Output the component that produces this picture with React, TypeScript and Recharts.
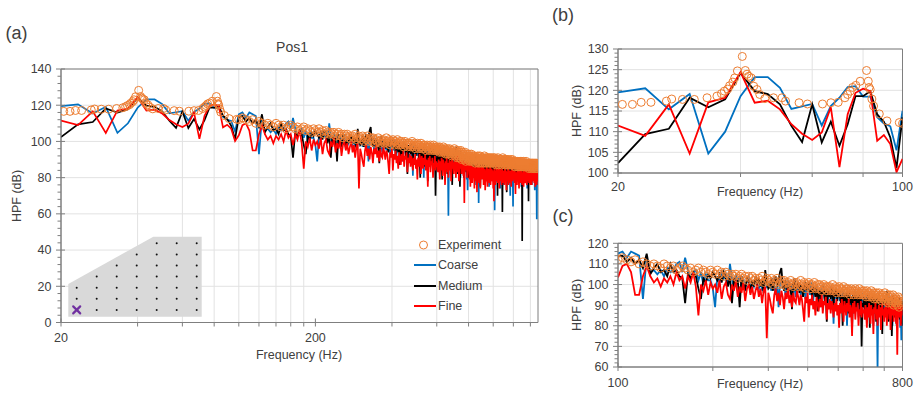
import React from "react";
import {
  CartesianGrid,
  ComposedChart,
  Legend,
  Line,
  ReferenceArea,
  Scatter,
  XAxis,
  YAxis,
} from "recharts";

const FONT = '"Liberation Sans", Arial, Helvetica, sans-serif';
const TEXT = "#404040";
const AXIS = "#7f7f7f";
const GRID = "#e2e2e2";
const EXP_COLOR = "#ED7D31";

// simulated spectra: one value every 10/3 Hz starting at 20 Hz (FFT bins)
const SIM_F0 = 20;
const SIM_DF = 10 / 3;

const coarse = [
  // 20 - 100 Hz
  119.5, 120.5, 115.4, 119.1, 104.7, 110, 118.6, 123.2, 123.2, 120.6, 115.5, 116.1, 116.7, 111.5, 116.2, 118.2, 120.8, 121, 118.5, 118.5, 113.5, 112, 111.3, 105.5, 115,
  // 100 - 200 Hz
  116, 113, 116, 115, 114, 93, 113, 106, 107, 105, 107, 104, 108, 106, 107, 110, 111, 106, 113, 107, 103, 106, 107, 102, 106, 100, 105, 102, 102, 98,
  // 200 - 300 Hz
  89, 104, 101, 106, 103, 105, 100, 110, 103, 98, 105, 101, 104, 99, 103, 97, 102, 104, 96, 101, 99, 103, 100, 98, 102, 97, 101, 103, 99, 100,
  // 300 - 400 Hz
  101, 97, 103, 99, 95, 102, 89, 100, 104, 98, 101, 95, 99, 102, 97, 100, 96, 101, 98, 94, 100, 97, 101, 95, 99, 96, 100, 93, 98, 97,
  // 400 - 500 Hz
  99, 95, 101, 97, 92, 99, 96, 100, 94, 98, 95, 89, 97, 100, 96, 93, 98, 95, 91, 97, 94, 99, 92, 96, 81, 95, 98, 93, 96, 94,
  // 500 - 600 Hz
  96, 92, 95, 89, 97, 93, 90, 96, 94, 80, 95, 91, 97, 88, 94, 92, 96, 86, 93, 95, 90, 97, 92, 84, 95, 91, 94, 89, 96, 93,
  // 600 - 700 Hz
  92, 88, 95, 90, 84, 93, 89, 96, 86, 91, 94, 88, 92, 80, 90, 95, 87, 93, 89, 59, 91, 86, 94, 88, 92, 83, 90, 95, 87, 91,
  // 700 - 800 Hz
  91, 86, 93, 88, 84, 92, 89, 95, 83, 90, 87, 93, 80, 89, 91, 85, 92, 88, 82, 90, 86, 93, 84, 89, 91, 79, 88, 73, 90, 86,
  // 800 - 1500 Hz
  88, 84, 90, 81, 87, 85, 91, 78, 86, 89, 83, 88, 80, 90, 85, 87, 76, 89, 84, 86,
  82, 88, 66, 87, 84, 90, 79, 86, 83, 88, 85, 80, 89, 83, 87, 77, 86, 90, 82, 85,
  88, 81, 86, 84, 79, 89, 83, 87, 75, 85, 84, 88, 80, 86, 83, 89, 78, 85, 87, 81,
  86, 80, 88, 62, 85, 83, 87, 79, 84, 88, 82, 86, 77, 88, 84, 80, 87, 83, 85, 74,
  87, 83, 86, 79, 88, 82, 85, 76, 86, 84, 81, 87, 84, 78, 86, 83, 88, 80, 85, 82,
  86, 79, 85, 83, 87, 77, 84, 86, 81, 70, 85, 82, 87, 80, 84, 86, 78, 85, 64, 83,
  86, 81, 84, 88, 79, 85, 82, 87, 76, 84, 83, 86, 80, 85, 82, 87, 78, 84, 86, 81,
  85, 79, 86, 83, 81, 87, 75, 84, 82, 85, 80, 86, 83, 78, 85, 82, 87, 79, 84, 81,
  85, 82, 77, 86, 83, 80, 85, 74, 84, 82, 86, 81, 84, 79, 85, 83, 77, 86, 82, 80,
  84, 78, 85, 82, 86, 76, 83, 85, 80, 84, 81, 85, 79, 84, 82, 86, 73, 83, 85, 80,
  84, 81, 85, 78, 57, 83, 80, 84, 76, 82,
];

const medium = [
  102.4, 109.4, 110.7, 118.2, 115.9, 117.8, 124.2, 119.8, 119.1, 116.6, 111.4, 107.5, 116.6, 107.4, 112.4, 106.6, 111.8, 118.6, 118.6, 119.8, 114.2, 112.4, 108.6, 101.2, 113.5,
  114, 111, 113, 110, 112, 108, 115, 105, 108, 110, 106, 107, 104, 110, 106, 107, 104, 103, 91, 105, 103, 106, 104, 98, 93, 103, 101, 105, 103, 106,
  104, 102, 105, 101, 106, 103, 99, 104, 91, 103, 100, 102, 89, 104, 100, 98, 103, 101, 97, 102, 99, 104, 100, 103, 99, 102, 96, 107, 101, 98,
  99, 103, 97, 101, 104, 99, 102, 106, 108, 100, 97, 102, 99, 95, 101, 98, 88, 100, 103, 97, 99, 101, 96, 100, 98, 94, 99, 101, 97, 99,
  101, 96, 98, 93, 100, 97, 94, 99, 87, 96, 98, 92, 97, 95, 99, 91, 96, 82, 98, 94, 97, 93, 99, 95, 90, 97, 94, 98, 92, 96,
  95, 97, 90, 94, 80, 96, 92, 95, 88, 97, 93, 86, 96, 91, 94, 78, 95, 90, 97, 92, 88, 95, 93, 90, 96, 85, 94, 70, 91, 89,
  94, 90, 85, 93, 89, 96, 88, 92, 79, 94, 90, 87, 95, 91, 86, 93, 89, 82, 94, 90, 88, 96, 91, 85, 93, 89, 76, 92, 90, 94,
  90, 93, 85, 97, 88, 91, 82, 94, 89, 86, 92, 75, 90, 95, 87, 91, 84, 89, 93, 80, 88, 91, 86, 94, 83, 90, 87, 81, 92, 80,
  90, 86, 92, 83, 88, 85, 91, 80, 87, 89, 85, 90, 82, 88, 86, 92, 79, 87, 84, 89,
  87, 84, 89, 82, 88, 86, 75, 90, 85, 87, 83, 89, 86, 80, 90, 84, 87, 82, 88, 85,
  89, 83, 86, 78, 88, 85, 90, 81, 86, 84, 87, 82, 89, 84, 80, 88, 85, 83, 89, 79,
  86, 88, 83, 87, 81, 89, 84, 86, 78, 87, 85, 70, 88, 83, 86, 81, 87, 84, 89, 80,
  86, 83, 88, 80, 85, 61, 87, 82, 86, 84, 88, 81, 85, 87, 79, 86, 84, 88, 72, 85,
  83, 87, 80, 86, 84, 88, 78, 85, 83, 87, 81, 86, 84, 79, 87, 83, 85, 80, 86, 84,
  87, 82, 85, 80, 86, 84, 88, 79, 85, 83, 85, 80, 87, 83, 78, 86, 84, 81, 87, 82,
  84, 86, 81, 85, 79, 87, 83, 80, 86, 45, 83, 87, 80, 85, 82, 86, 78, 84, 87, 81,
  85, 82, 86, 79, 84, 87, 81, 85, 83, 78, 86, 84, 67, 85, 82, 87, 80, 84, 86, 81,
  84, 87, 80, 85, 83, 78, 86, 82, 85, 84, 82, 86, 79, 85, 83, 87, 81, 84, 77, 85,
  84, 80, 86, 82, 85, 79, 84, 86, 81, 83,
];

const fine = [
  111.5, 109, 116.6, 104.7, 117.1, 118.2, 124.4, 117, 117.5, 115.4, 111.8, 109.5, 108, 109.8, 115.9, 101.4, 114.2, 119.4, 120.4, 119.8, 107.8, 109.2, 107, 100.2, 103.4,
  109, 110, 106, 95, 95, 104, 109, 104, 101, 103, 99, 103, 101, 104, 100, 106, 102, 104, 98, 104, 101, 106, 99, 85, 100, 97, 102, 95, 101, 98,
  100, 96, 102, 93, 99, 101, 95, 93, 100, 97, 102, 94, 99, 96, 101, 92, 98, 100, 95, 99, 93, 97, 100, 94, 98, 91, 97, 99, 74, 96,
  93, 89, 86, 95, 98, 92, 96, 90, 97, 94, 88, 96, 93, 98, 91, 95, 89, 96, 92, 91, 97, 94, 90, 95, 93, 88, 82, 94, 91, 96,
  84, 93, 90, 95, 88, 92, 85, 94, 91, 87, 93, 89, 95, 86, 92, 90, 94, 83, 91, 88, 93, 86, 92, 89, 84, 91, 87, 93, 85, 90,
  79, 91, 86, 93, 88, 82, 92, 89, 85, 91, 87, 93, 84, 90, 88, 75, 91, 86, 92, 83, 89, 87, 91, 80, 88, 85, 92, 84, 89, 86,
  88, 83, 90, 86, 79, 89, 84, 91, 87, 81, 90, 85, 88, 76, 89, 86, 91, 83, 88, 80, 87, 90, 84, 89, 78, 86, 91, 85, 88, 82,
  89, 84, 91, 80, 88, 86, 92, 83, 89, 78, 87, 90, 85, 91, 82, 88, 86, 93, 81, 89, 66, 87, 90, 84, 88, 92, 80, 89, 85, 90,
  85, 79, 88, 75, 84, 81, 87, 77, 83, 86, 80, 86, 74, 84, 82, 88, 78, 85, 72, 83,
  87, 80, 84, 77, 86, 82, 74, 85, 81, 87, 79, 84, 82, 86, 76, 83, 80, 85, 73, 82,
  84, 78, 86, 81, 75, 83, 85, 79, 84, 77, 82, 86, 76, 83, 80, 85, 78, 84, 81, 74,
  83, 67, 85, 79, 82, 76, 84, 80, 86, 78, 81, 84, 77, 85, 79, 83, 74, 82, 85, 80,
  78, 84, 81, 76, 85, 80, 83, 77, 84, 79, 83, 76, 82, 85, 78, 81, 84, 73, 83, 80,
  82, 78, 85, 80, 76, 84, 81, 79, 83, 77, 84, 80, 75, 83, 81, 85, 78, 82, 80, 84,
  79, 83, 81, 77, 84, 80, 71, 83, 78, 82, 81, 76, 84, 80, 82, 78, 85, 79, 74, 83,
  80, 84, 78, 82, 77, 85, 80, 83, 79, 76, 83, 78, 81, 84, 75, 82, 80, 78, 84, 79,
  77, 83, 80, 82, 78, 84, 76, 81, 83, 79, 82, 78, 84, 80, 77, 83, 81, 79, 84, 76,
  80, 83, 79, 82, 76, 84, 81, 78, 83, 80, 78, 82, 80, 84, 77, 81, 83, 79, 75, 82,
  81, 78, 83, 80, 76, 82, 79, 84, 78, 80,
];

// measurement: irregular points below 100 Hz ...
const expLowFreq = [
  20.5, 21.7, 22.8, 24.1, 26.3, 27.1, 28.8, 30.8, 33.1, 35.0,
  35.9, 36.5, 37.2, 37.6, 38.3, 38.7, 39.3, 40.4, 41.1, 41.5,
  41.9, 42.5, 43.1, 43.9, 44.6, 45.9, 48.2, 50.6, 51.6, 55.7,
  58.4, 63.6, 66.7, 69.5, 72.2, 73.3, 74.4, 75.4, 76.8, 78.7,
  81.6, 82.4, 82.8, 83.3, 84.1, 84.9, 87.7, 91.6, 98.2,
];
const expLowVal = [
  116.6, 116.6, 117.1, 117.1, 117.4, 117.9, 117.8, 117.8, 118.2, 118.6,
  119.2, 119.8, 120.3, 121.1, 122, 123, 124.7, 128.2, 124.8, 123.9,
  123.4, 123, 121, 120.2, 119, 118, 118.2, 118.2, 117.4, 117,
  116.7, 116.7, 117, 117.1, 118.2, 119, 119.8, 120.7, 121.2, 122.2,
  124.8, 122.2, 120.7, 120.2, 117.9, 116.2, 114.3, 112.6, 112.2,
];
// ... then on the simulation grid from 100 Hz (bin 24) to 1500 Hz
const EXP_GRID_START = 24;
const expHigh = [
  112, 113, 112, 111, 112, 110, 111, 110, 109, 110,
  109, 108, 110, 109, 108, 109, 107, 108, 109, 108,
  107, 108, 106, 107, 108, 106, 107, 106, 105, 107,
  106, 105, 107, 105, 106, 104, 106, 105, 104, 105,
  104, 105, 103, 104, 105, 103, 104, 102, 104, 103,
  104, 102, 103, 101, 103, 102, 104, 101, 102, 103,
  102, 101, 103, 100, 102, 101, 103, 100, 101, 102,
  100, 102, 101, 99, 101, 100, 102, 100, 99, 101,
  100, 101, 99, 100, 102, 99, 100, 101, 98, 100,
  99, 101, 100, 98, 100, 99, 101, 98, 99, 100,
  98, 100, 99, 97, 99, 100, 98, 99, 97, 99,
  98, 99, 97, 98, 100, 97, 98, 99, 96, 98,
  97, 99, 98, 96, 98, 97, 99, 96, 97, 98,
  96, 98, 97, 95, 97, 98, 96, 97, 95, 97,
  98, 96, 97, 95, 96, 98, 95, 96, 97, 95,
  96, 97, 95, 96, 94, 97, 95, 96, 94, 96,
  95, 97, 94, 95, 96, 93, 95, 94, 96, 93,
  95, 94, 96, 93, 94, 95, 92, 94, 95, 93,
  94, 96, 92, 94, 93, 95, 91, 94, 92, 95,
  93, 91, 94, 92, 95, 90, 93, 92, 94, 91,
  93, 90, 92, 94, 89, 92, 91, 93, 90, 92,
  91, 93, 89, 92, 90, 91, 93, 89, 91, 90,
  92, 89, 91, 90, 92, 88, 91, 90, 89, 91,
  90, 92, 88, 91, 89, 90, 92, 88, 90, 91,
  89, 91, 90, 88, 91, 89, 90, 92, 88, 90,
  91, 89, 90, 88, 91, 90, 89, 91, 88, 90,
  89, 91, 88, 90, 89, 91, 88, 90, 89, 90,
  91, 88, 90, 89, 91, 88, 90, 89, 87, 90,
  89, 90, 88, 91, 89, 87, 90, 89, 88, 90,
  88, 90, 89, 87, 90, 88, 89, 91, 88, 89,
  90, 88, 89, 87, 90, 89, 88, 90, 87, 89,
  88, 90, 87, 89, 88, 90, 87, 89, 88, 89,
  89, 87, 90, 88, 89, 87, 88, 90, 87, 89,
  88, 89, 87, 89, 88, 86, 89, 88, 87, 89,
  88, 87, 89, 86, 88, 89, 87, 88, 86, 89,
  87, 88, 86, 89, 87, 88, 86, 88, 87, 89,
  88, 86, 88, 87, 89, 86, 87, 88, 86, 88,
  87, 88, 86, 87, 89, 86, 88, 87, 86, 88,
  87, 86, 88, 87, 85, 88, 86, 87, 88, 86,
  87, 88, 86, 87, 85, 88, 87, 86, 88, 86,
  87, 85, 88, 86, 87, 86, 88, 85, 87, 86,
  88, 86, 87, 85, 87, 88, 86, 87, 85, 87,
  87,
];

// axis labels
const A_X_LABELS = [20, 200];
const A_X_MINOR = [40, 60, 80, 100, 120, 140, 160, 180, 400, 600, 800, 1000, 1200, 1400];
const A_Y_LABELS = [0, 20, 40, 60, 80, 100, 120, 140];
const B_X_LABELS = [20, 100];
const B_X_MINOR = [40, 60, 80];
const B_Y_LABELS = [100, 105, 110, 115, 120, 125, 130];
const C_X_LABELS = [100, 800];
const C_X_MINOR = [200, 300, 400, 500, 600, 700];
const C_Y_LABELS = [60, 70, 80, 90, 100, 110, 120];

// inset sketch of the measurement grid (row -> first occupied column)
const SENSOR_ROW_START = [4, 3, 2, 1, 0, 0, 1];
const SENSOR_COLS = 7;

type Pt = { f: number; v: number };

const onGrid = (vals: number[], start = 0): Pt[] =>
  vals.map((v, k) => ({ f: SIM_F0 + (start + k) * SIM_DF, v }));

const coarseData = onGrid(coarse);
const mediumData = onGrid(medium);
const fineData = onGrid(fine);
const expData: Pt[] = [
  ...expLowFreq.map((f, k) => ({ f, v: expLowVal[k] })),
  ...onGrid(expHigh, EXP_GRID_START),
];

// keep one point either side of the window so lines run to the frame
function windowed(data: Pt[], lo: number, hi: number) {
  let a = 0;
  while (a < data.length - 1 && data[a + 1].f <= lo) a++;
  let b = data.length - 1;
  while (b > 0 && data[b - 1].f >= hi) b--;
  return data.slice(a, b + 1);
}

function minorSteps(lo: number, hi: number, step: number) {
  const out: number[] = [];
  for (let v = lo; v <= hi + 1e-9; v += step) out.push(Math.round(v * 100) / 100);
  return out;
}

const xTick = (labels: number[], gap: number) => (props: any) => {
  const { x, y, payload } = props;
  const major = labels.includes(payload.value);
  return (
    <g>
      <line x1={x} x2={x} y1={major ? y - 4 : y} y2={y + 4} stroke={AXIS} />
      {major && (
        <text x={x} y={y + gap} dy="0.71em" textAnchor="middle" fill={TEXT} fontSize={12.5} fontFamily={FONT}>
          {payload.value}
        </text>
      )}
    </g>
  );
};

const yTick = (labels: number[]) => (props: any) => {
  const { x, y, payload } = props;
  const major = labels.includes(payload.value);
  return (
    <g>
      <line x1={x - (major ? 5 : 3.5)} x2={major ? x + 4 : x} y1={y} y2={y} stroke={AXIS} />
      {major && (
        <text x={x - 9.5} y={y} dy="0.35em" textAnchor="end" fill={TEXT} fontSize={12.5} fontFamily={FONT}>
          {payload.value}
        </text>
      )}
    </g>
  );
};

const ringShape = (p: any) => (
  <circle cx={p.cx} cy={p.cy} r={4} fill="none" stroke={EXP_COLOR} strokeWidth={1} />
);

const LEGEND_ORDER = ["Experiment", "Coarse", "Medium", "Fine"];

function LegendBox({ payload }: any) {
  const items = [...(payload ?? [])].sort(
    (a: any, b: any) => LEGEND_ORDER.indexOf(a.value) - LEGEND_ORDER.indexOf(b.value)
  );
  return (
    <div style={{ fontFamily: FONT, fontSize: 12.5, color: TEXT }}>
      {items.map((it: any) => (
        <div key={it.value} style={{ display: "flex", alignItems: "center", height: 20.5 }}>
          <svg width={23} height={10} style={{ display: "block" }}>
            {it.value === "Experiment" ? (
              <circle cx={9.5} cy={5} r={4} fill="none" stroke={EXP_COLOR} strokeWidth={1} />
            ) : (
              <line x1={0} x2={22} y1={5} y2={5} stroke={it.color} strokeWidth={2} />
            )}
          </svg>
          <span style={{ marginLeft: 1 }}>{it.value}</span>
        </div>
      ))}
    </div>
  );
}

type PanelProps = {
  width: number;
  height: number;
  margin: { top: number; right: number; bottom: number; left: number };
  yAxisWidth: number;
  xDomain: [number, number];
  yDomain: [number, number];
  xLabels: number[];
  xMinor: number[];
  yLabels: number[];
  yStep: number;
  xGap: number;
  lineWidth: number;
  legend?: boolean;
};

function Panel(p: PanelProps) {
  const [lo, hi] = p.xDomain;
  const xTicks = [...p.xLabels, ...p.xMinor].sort((a, b) => a - b);
  const yTicks = minorSteps(p.yDomain[0], p.yDomain[1], p.yStep);
  const exp = expData.filter((d) => d.f >= lo - 1e-6 && d.f <= hi + 1e-6);
  return (
    <ComposedChart width={p.width} height={p.height} margin={p.margin}>
      <CartesianGrid
        stroke={GRID}
        horizontalValues={p.yLabels.slice(1)}
        verticalValues={p.xMinor}
      />
      <XAxis
        dataKey="f"
        type="number"
        scale="log"
        domain={p.xDomain}
        allowDataOverflow
        ticks={xTicks}
        interval={0}
        height={20}
        tickSize={0}
        tickMargin={0}
        tickLine={false}
        axisLine={{ stroke: AXIS }}
        tick={xTick(p.xLabels, p.xGap)}
      />
      <YAxis
        type="number"
        domain={p.yDomain}
        allowDataOverflow
        ticks={yTicks}
        interval={0}
        width={p.yAxisWidth}
        tickSize={0}
        tickMargin={0}
        tickLine={false}
        axisLine={{ stroke: AXIS }}
        tick={yTick(p.yLabels)}
      />
      <ReferenceArea
        x1={lo}
        x2={hi}
        y1={p.yDomain[0]}
        y2={p.yDomain[1]}
        fill="none"
        stroke={AXIS}
        ifOverflow="visible"
      />
      <Line data={windowed(coarseData, lo, hi)} dataKey="v" name="Coarse" stroke="#0070C0" strokeWidth={p.lineWidth} dot={false} isAnimationActive={false} />
      <Line data={windowed(mediumData, lo, hi)} dataKey="v" name="Medium" stroke="#000000" strokeWidth={p.lineWidth} dot={false} isAnimationActive={false} />
      <Line data={windowed(fineData, lo, hi)} dataKey="v" name="Fine" stroke="#FF0000" strokeWidth={p.lineWidth} dot={false} isAnimationActive={false} />
      <Scatter data={exp} dataKey="v" name="Experiment" fill={EXP_COLOR} legendType="circle" shape={ringShape} isAnimationActive={false} />
      {p.legend && (
        <Legend
          layout="vertical"
          align="center"
          verticalAlign="middle"
          wrapperStyle={{ position: "absolute", left: 414, top: 234.5, width: 120 }}
          content={<LegendBox />}
        />
      )}
    </ComposedChart>
  );
}

function Text({ x, y, size = 12.5, rotate = false, children }: any) {
  return (
    <div
      style={{
        position: "absolute",
        left: x,
        top: y,
        transform: `translate(-50%, -50%)${rotate ? " rotate(-90deg)" : ""}`,
        whiteSpace: "nowrap",
        fontSize: size,
        lineHeight: 1,
        color: TEXT,
        fontFamily: FONT,
      }}
    >
      {children}
    </div>
  );
}

function SensorInset() {
  // grey footprint with the sensor grid and the Pos1 position
  const x0 = 76.7;
  const y0 = 243.3;
  const dx = 20;
  const dy = 11.1;
  return (
    <svg width={560} height={394} style={{ position: "absolute", left: 0, top: 0, pointerEvents: "none" }}>
      <polygon points="68.3,316.7 68.3,284 153.3,236.7 201.7,236.7 201.7,316.7" fill="#d9d9d9" />
      {SENSOR_ROW_START.map((start, r) =>
        Array.from({ length: SENSOR_COLS }, (_, c) =>
          c >= start && !(r === SENSOR_ROW_START.length - 1 && c === 0) ? (
            <circle key={`${r}-${c}`} cx={x0 + c * dx} cy={y0 + r * dy} r={1} fill="#111" />
          ) : null
        )
      )}
      <g stroke="#7030A0" strokeWidth={2.2} strokeLinecap="round">
        <line x1={x0 - 3.5} y1={y0 + 6 * dy - 3.5} x2={x0 + 3.5} y2={y0 + 6 * dy + 3.5} />
        <line x1={x0 - 3.5} y1={y0 + 6 * dy + 3.5} x2={x0 + 3.5} y2={y0 + 6 * dy - 3.5} />
      </g>
    </svg>
  );
}

export default function App() {
  return (
    <div
      style={{
        position: "absolute",
        left: 0,
        top: 0,
        width: 921,
        height: 394,
        background: "#ffffff",
        fontFamily: FONT,
        overflow: "hidden",
      }}
    >
      <div style={{ position: "absolute", left: 0, top: 0 }}>
        <Panel
          width={560}
          height={394}
          margin={{ top: 69, right: 22, bottom: 51.5, left: 0 }}
          yAxisWidth={61}
          xDomain={[20, 1500]}
          yDomain={[0, 140]}
          xLabels={A_X_LABELS}
          xMinor={A_X_MINOR}
          yLabels={A_Y_LABELS}
          yStep={4}
          xGap={10.5}
          lineWidth={1.7}
          legend
        />
        <SensorInset />
      </div>
      <div style={{ position: "absolute", left: 560, top: 0 }}>
        <Panel
          width={361}
          height={200}
          margin={{ top: 49, right: 18.5, bottom: 7, left: 0 }}
          yAxisWidth={58}
          xDomain={[20, 100]}
          yDomain={[100, 130]}
          xLabels={B_X_LABELS}
          xMinor={B_X_MINOR}
          yLabels={B_Y_LABELS}
          yStep={1}
          xGap={8.7}
          lineWidth={1.8}
        />
      </div>
      <div style={{ position: "absolute", left: 560, top: 197 }}>
        <Panel
          width={361}
          height={197}
          margin={{ top: 46.3, right: 18.5, bottom: 7, left: 0 }}
          yAxisWidth={58}
          xDomain={[100, 800]}
          yDomain={[60, 120]}
          xLabels={C_X_LABELS}
          xMinor={C_X_MINOR}
          yLabels={C_Y_LABELS}
          yStep={2}
          xGap={11}
          lineWidth={1.8}
        />
      </div>

      <Text x={16.5} y={32.5} size={18}>(a)</Text>
      <Text x={292} y={47} size={14}>Pos1</Text>
      <Text x={299} y={355}>Frequency (Hz)</Text>
      <Text x={17} y={195.7} rotate>HPF (dB)</Text>

      <Text x={563} y={15} size={18}>(b)</Text>
      <Text x={760} y={191.7}>Frequency (Hz)</Text>
      <Text x={577} y={111} rotate>HPF (dB)</Text>

      <Text x={563} y={216} size={18}>(c)</Text>
      <Text x={760} y={384.3}>Frequency (Hz)</Text>
      <Text x={577} y={305} rotate>HPF (dB)</Text>
    </div>
  );
}
